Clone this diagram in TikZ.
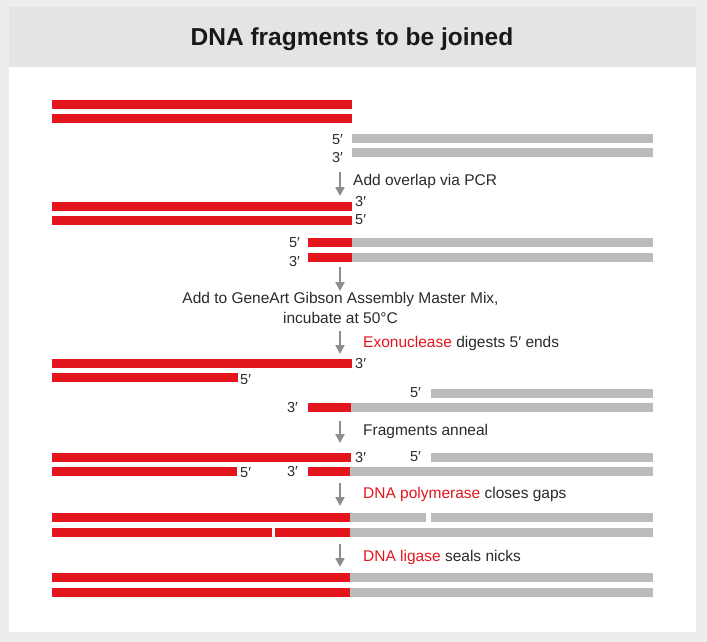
\documentclass[tikz,border=0pt]{standalone}
\usepackage{fontspec}
\setmainfont{Liberation Sans}
\usetikzlibrary{arrows.meta}

\definecolor{dnared}{HTML}{E3161D}
\definecolor{dnagray}{HTML}{BABBBC}
\definecolor{arrowgray}{HTML}{8C8D8E}
\definecolor{headgray}{HTML}{E3E4E4}
\definecolor{pagegray}{HTML}{ECEDED}
\definecolor{txt}{HTML}{2B2B2B}

\tikzset{
  redstrand/.style={draw=dnared,line width=9pt},
  graystrand/.style={draw=dnagray,line width=9pt},
  endlabel/.style={font=\fontsize{14.5}{16}\selectfont,text=txt,inner sep=0pt},
  steptext/.style={font=\fontsize{15.5}{18}\selectfont,text=txt,inner sep=0pt,anchor=west},
  steparrow/.style={draw=arrowgray,line width=2.5pt,-{Triangle[width=9pt,length=9pt]}}
}

\begin{document}
\begin{tikzpicture}[x=1pt,y=-1pt]
  \useasboundingbox (0,0) rectangle (707,642);
  % card and header
  \fill[pagegray] (0,0) rectangle (707,642);
  \fill[white] (8.5,7.5) rectangle (695.5,631.5);
  \fill[headgray] (8.5,7.5) rectangle (695.5,67);
  \node[font=\bfseries\fontsize{24.5}{28}\selectfont,text=black!90] (title) at (352,39) {DNA fragments to be joined};

  % fragments
  \draw[redstrand] (52,104) -- (352,104);
  \draw[redstrand] (52,118) -- (352,118);
  \draw[graystrand] (352,138) -- (653,138);
  \draw[graystrand] (352,152) -- (653,152);
  \node[endlabel,anchor=east] (f5) at (343,140) {5′};
  \node[endlabel,anchor=east] (f3) at (343,158) {3′};

  \coordinate (s1) at (340,172);
  \coordinate (e1) at (340,196);
  \draw[steparrow] (s1) -- (e1);
  \node[steptext] (pcr) at (353,181) {Add overlap via PCR};

  % overlap added
  \draw[redstrand] (52,206.5) -- (352,206.5);
  \draw[redstrand] (52,220.5) -- (352,220.5);
  \node[endlabel,anchor=west] (o3) at (355,202) {3′};
  \node[endlabel,anchor=west] (o5) at (355,220) {5′};
  \draw[redstrand] (308,242) -- (352,242);
  \draw[graystrand] (352,242) -- (653,242);
  \draw[redstrand] (308,257) -- (352,257);
  \draw[graystrand] (352,257) -- (653,257);
  \node[endlabel,anchor=east] (p5) at (300,243) {5′};
  \node[endlabel,anchor=east] (p3) at (300,262) {3′};

  \coordinate (s2) at (340,267);
  \coordinate (e2) at (340,291);
  \draw[steparrow] (s2) -- (e2);
  \node[steptext,anchor=center] (mix) at (340.5,299) {Add to GeneArt Gibson Assembly Master Mix,};
  \node[steptext,anchor=center] (temp) at (340.5,318) {incubate at 50°C};

  \coordinate (s3) at (340,331);
  \coordinate (e3) at (340,354);
  \draw[steparrow] (s3) -- (e3);
  \node[steptext] (exo) at (363,343) {\textcolor{dnared}{Exonuclease} digests 5′ ends};

  % digested ends
  \draw[redstrand] (52,363) -- (352,363);
  \node[endlabel,anchor=west] (x3) at (355,364) {3′};
  \draw[redstrand] (52,377.5) -- (238,377.5);
  \node[endlabel,anchor=west] (x5) at (240,380) {5′};
  \draw[graystrand] (431,393.5) -- (653,393.5);
  \node[endlabel,anchor=east] (y5) at (421,393) {5′};
  \draw[redstrand] (308,407.5) -- (351,407.5);
  \draw[graystrand] (351,407.5) -- (653,407.5);
  \node[endlabel,anchor=east] (y3) at (298,408) {3′};

  \coordinate (s4) at (340,421);
  \coordinate (e4) at (340,443);
  \draw[steparrow] (s4) -- (e4);
  \node[steptext] (anneal) at (363,431) {Fragments anneal};

  % annealed
  \draw[redstrand] (52,457) -- (351,457);
  \node[endlabel,anchor=west] (a3) at (355,458) {3′};
  \node[endlabel,anchor=east] (a5) at (421,457) {5′};
  \draw[graystrand] (431,457) -- (653,457);
  \draw[redstrand] (52,471) -- (237,471);
  \node[endlabel,anchor=west] (b5) at (240,473) {5′};
  \node[endlabel,anchor=east] (b3) at (298,472) {3′};
  \draw[redstrand] (308,471) -- (350,471);
  \draw[graystrand] (350,471) -- (653,471);

  \coordinate (s5) at (340,483);
  \coordinate (e5) at (340,506);
  \draw[steparrow] (s5) -- (e5);
  \node[steptext] (pol) at (363,494) {\textcolor{dnared}{DNA polymerase} closes gaps};

  % gaps closed
  \draw[redstrand] (52,517.5) -- (350,517.5);
  \draw[graystrand] (350,517.5) -- (426,517.5);
  \draw[graystrand] (430.5,517.5) -- (653,517.5);
  \draw[redstrand] (52,532) -- (271.5,532);
  \draw[redstrand] (275,532) -- (350,532);
  \draw[graystrand] (350,532) -- (653,532);

  \coordinate (s6) at (340,544);
  \coordinate (e6) at (340,567);
  \draw[steparrow] (s6) -- (e6);
  \node[steptext] (lig) at (363,557) {\textcolor{dnared}{DNA ligase} seals nicks};

  % joined
  \draw[redstrand] (52,577.5) -- (350,577.5);
  \draw[graystrand] (350,577.5) -- (653,577.5);
  \draw[redstrand] (52,592) -- (350,592);
  \draw[graystrand] (350,592) -- (653,592);
\end{tikzpicture}
\end{document}
